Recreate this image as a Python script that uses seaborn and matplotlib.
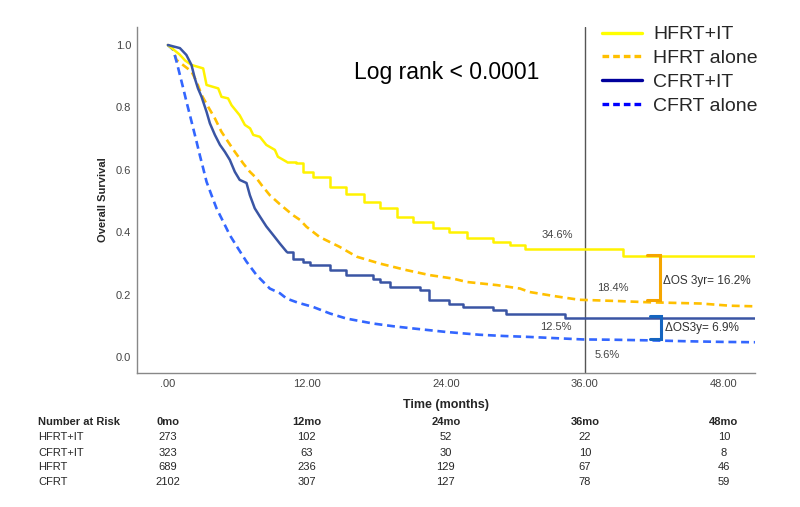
import pandas as pd
import numpy as np
import matplotlib
matplotlib.use("Agg")
import matplotlib.pyplot as plt
import matplotlib.transforms as mtransforms
from matplotlib.lines import Line2D
import seaborn as sns

# Kaplan-Meier curves (time in months, survival)
hfrt_it_t = [0, 1.0, 1.5, 2.05, 3.05, 3.34, 4.35, 4.63, 5.2, 5.5, 6.2, 6.65, 7.1, 7.37, 7.94, 8.5,
             9.24, 9.5, 10.25, 11.1, 11.7, 12.54, 14.0, 15.4, 16.9, 18.3, 19.8, 21.2, 22.9, 24.3,
             25.8, 28.1, 29.5, 30.8, 39.3, 50.7]
hfrt_it_s = [1.0, 0.97, 0.95, 0.936, 0.925, 0.872, 0.861, 0.834, 0.829, 0.807, 0.775, 0.744, 0.733,
             0.712, 0.706, 0.68, 0.664, 0.642, 0.626, 0.621, 0.594, 0.578, 0.546, 0.524, 0.498,
             0.477, 0.450, 0.434, 0.413, 0.402, 0.381, 0.370, 0.36, 0.346, 0.325, 0.325]

hfrt_t = [0, 0.4, 0.75, 2.04, 2.48, 2.91, 3.48, 4.06, 4.63, 5.2, 5.78, 6.5, 7.08, 7.66, 8.1, 8.8,
          9.67, 10.8, 11.4, 11.96, 13.1, 14.8, 16.3, 18.3, 20.6, 22.6, 24.6, 25.8, 28.4, 30.4, 31.2,
          33.5, 35.5, 38.8, 41.5, 46.0, 48.5, 50.7]
hfrt_s = [1.0, 0.99, 0.952, 0.915, 0.883, 0.840, 0.802, 0.765, 0.722, 0.690, 0.658, 0.621, 0.594,
          0.573, 0.551, 0.519, 0.490, 0.455, 0.44, 0.418, 0.385, 0.354, 0.322, 0.300, 0.279, 0.263,
          0.252, 0.241, 0.231, 0.220, 0.209, 0.195, 0.184, 0.18, 0.176, 0.172, 0.165, 0.163]

cfrt_it_t = [0, 1.04, 1.6, 2.04, 2.33, 2.6, 2.91, 3.34, 3.63, 4.06, 4.5, 4.92, 5.35, 5.78, 6.2,
             6.79, 7.08, 7.5, 7.94, 8.5, 9.1, 9.67, 10.25, 10.8, 11.7, 12.25, 14.0, 15.4, 17.7,
             18.3, 19.2, 21.8, 22.5, 24.3, 25.5, 28.1, 29.2, 34.3, 50.7]
cfrt_it_s = [1.0, 0.99, 0.968, 0.936, 0.893, 0.861, 0.834, 0.786, 0.749, 0.712, 0.68, 0.658, 0.632,
             0.594, 0.568, 0.558, 0.519, 0.477, 0.451, 0.419, 0.391, 0.364, 0.338, 0.315, 0.305,
             0.295, 0.279, 0.263, 0.252, 0.241, 0.225, 0.215, 0.183, 0.172, 0.161, 0.151, 0.140,
             0.126, 0.126]

cfrt_t = [0, 0.46, 0.75, 1.04, 1.33, 1.61, 1.9, 2.19, 2.48, 2.76, 3.05, 3.34, 3.77, 4.2, 4.78,
          5.35, 6.07, 6.79, 7.66, 8.8, 9.67, 10.25, 11.2, 12.54, 14.0, 15.4, 17.7, 19.5, 21.2,
          24.0, 26.9, 29.0, 31.2, 33.5, 35.8, 38.5, 41.6, 45.0, 48.0, 50.7]
cfrt_s = [1.0, 0.985, 0.947, 0.904, 0.861, 0.818, 0.776, 0.733, 0.690, 0.647, 0.605, 0.562, 0.519,
          0.477, 0.434, 0.391, 0.348, 0.306, 0.263, 0.220, 0.205, 0.188, 0.175, 0.161, 0.140,
          0.124, 0.108, 0.099, 0.092, 0.081, 0.072, 0.068, 0.065, 0.061, 0.057, 0.056, 0.054,
          0.051, 0.049, 0.048]

groups = ["HFRT+IT", "HFRT alone", "CFRT+IT", "CFRT alone"]

# number at risk table
risk_times = [0, 12, 24, 36, 48]
risk_headers = ["0mo", "12mo", "24mo", "36mo", "48mo"]
risk_rows = ["HFRT+IT", "CFRT+IT", "HFRT", "CFRT"]
risk_hfrt_it = [273, 102, 52, 22, 10]
risk_cfrt_it = [323, 63, 30, 10, 8]
risk_hfrt = [689, 236, 129, 67, 46]
risk_cfrt = [2102, 307, 127, 78, 59]

x_ticks = [0, 12, 24, 36, 48]
x_ticklabels = [".00", "12.00", "24.00", "36.00", "48.00"]
y_ticks = [0.0, 0.2, 0.4, 0.6, 0.8, 1.0]

df = pd.concat([
    pd.DataFrame({"time": hfrt_it_t, "surv": hfrt_it_s, "group": "HFRT+IT"}),
    pd.DataFrame({"time": hfrt_t, "surv": hfrt_s, "group": "HFRT alone"}),
    pd.DataFrame({"time": cfrt_it_t, "surv": cfrt_it_s, "group": "CFRT+IT"}),
    pd.DataFrame({"time": cfrt_t, "surv": cfrt_s, "group": "CFRT alone"}),
], ignore_index=True)

sns.set_style("white")
plt.rcParams['font.family'] = ['Liberation Sans', 'DejaVu Sans']

line_colors = {"HFRT+IT": "#FFF200", "HFRT alone": "#FFC000",
               "CFRT+IT": "#3A55A4", "CFRT alone": "#3366FF"}
legend_colors = {"HFRT+IT": "#FFFF00", "HFRT alone": "#FFC000",
                 "CFRT+IT": "#00009C", "CFRT alone": "#0000FF"}
dash_map = {"HFRT+IT": "", "HFRT alone": (3, 1.8), "CFRT+IT": "", "CFRT alone": (3, 1.8)}

fig = plt.figure(figsize=(8, 5.07), dpi=100)
ax = fig.add_axes([0.171, 0.264, 0.773, 0.683])

# dashed (large-n) curves look smooth; solid curves: smooth early drop, visible steps later
solid_groups = ["HFRT+IT", "CFRT+IT"]
dashed = df[~df["group"].isin(solid_groups)]
solid_early = df[df["group"].isin(solid_groups) & (df["time"] <= 10.3)]
solid_late = df[df["group"].isin(solid_groups) & (df["time"] >= 10.2)]

sns.lineplot(data=dashed, x="time", y="surv", hue="group", style="group",
             palette=line_colors, dashes=dash_map, estimator=None, sort=False,
             legend=False, linewidth=1.9, ax=ax)
sns.lineplot(data=solid_early, x="time", y="surv", hue="group",
             palette=line_colors, estimator=None, sort=False,
             legend=False, linewidth=1.8, ax=ax)
sns.lineplot(data=solid_late, x="time", y="surv", hue="group",
             palette=line_colors, drawstyle="steps-post", estimator=None,
             sort=False, legend=False, linewidth=1.8, ax=ax)

ax.axvline(36, color="#555555", lw=1.0, zorder=1)

ax.set_xlim(-2.68, 50.7)
ax.set_ylim(-0.051, 1.058)
ax.set_xticks(x_ticks)
ax.set_xticklabels(x_ticklabels)
ax.set_yticks(y_ticks)
ax.set_yticklabels([f"{v:.1f}" for v in y_ticks])
ax.tick_params(length=0, labelsize=8, labelcolor="#444444", pad=4)
sns.despine(ax=ax)
for s in ["left", "bottom"]:
    ax.spines[s].set_color("#888888")
    ax.spines[s].set_linewidth(1.0)

ax.set_ylabel("Overall Survival", fontsize=8, fontweight="bold", labelpad=6)
ax.set_xlabel("Time (months)", fontsize=9, fontweight="bold")
ax.xaxis.set_label_coords(0.5, -0.075)

ax.text(24.1, 0.913, "Log rank < 0.0001", fontsize=16.5, ha="center", va="center", color="black")

# 3-yr annotations
ax.text(33.6, 0.39, "34.6%", fontsize=8, ha="center", va="center", color="#444444")
ax.text(38.4, 0.221, "18.4%", fontsize=8, ha="center", va="center", color="#444444")
ax.text(33.5, 0.096, "12.5%", fontsize=8, ha="center", va="center", color="#444444")
ax.text(37.9, 0.006, "5.6%", fontsize=8, ha="center", va="center", color="#444444")

ax.plot([41.4, 42.5, 42.5, 41.4], [0.327, 0.327, 0.182, 0.182], color="#F5A500", lw=2.2,
        solid_joinstyle="miter")
ax.plot([41.6, 42.6, 42.6, 41.6], [0.131, 0.131, 0.058, 0.058], color="#1565C0", lw=2.2,
        solid_joinstyle="miter")
ax.text(42.7, 0.244, "ΔOS 3yr= 16.2%", fontsize=8.5, ha="left", va="center", color="#333333")
ax.text(42.9, 0.093, "ΔOS3y= 6.9%", fontsize=8.5, ha="left", va="center", color="#333333")

handles = [Line2D([0], [0], color=legend_colors[g], lw=2.4,
                  linestyle="-" if dash_map[g] == "" else (0, (2.0, 1.2))) for g in groups]
fig.legend(handles, groups, loc="upper left", bbox_to_anchor=(0.7525, 0.949), frameon=False,
           fontsize=14, handlelength=2.05, handletextpad=0.57, labelspacing=0.32,
           borderpad=0, borderaxespad=0)

# number at risk table
trans = mtransforms.blended_transform_factory(ax.transData, fig.transFigure)
header_y = 0.1677
row_y = [0.1381, 0.1065, 0.0789, 0.0493]
fig.text(0.0475, header_y, "Number at Risk", fontsize=8, fontweight="bold", ha="left", va="center")
for t, h in zip(risk_times, risk_headers):
    ax.text(t, header_y, h, transform=trans, fontsize=8, fontweight="bold", ha="center", va="center")
for name, vals, y in zip(risk_rows, [risk_hfrt_it, risk_cfrt_it, risk_hfrt, risk_cfrt], row_y):
    fig.text(0.0475, y, name, fontsize=8, ha="left", va="center")
    for t, v in zip(risk_times, vals):
        ax.text(t, y, str(v), transform=trans, fontsize=8, ha="center", va="center")

fig.savefig("out.png", dpi=100)
